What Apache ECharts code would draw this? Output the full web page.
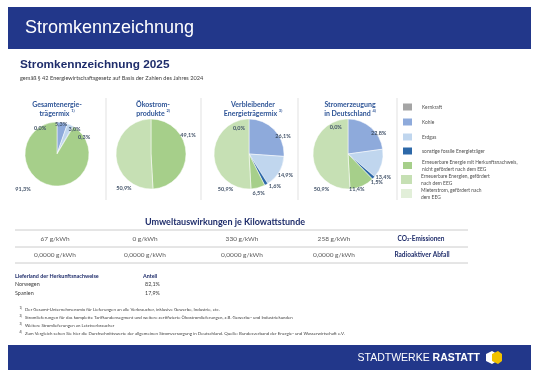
<!DOCTYPE html>
<html><head><meta charset="utf-8">
<script src="https://cdn.jsdelivr.net/npm/echarts@6/dist/echarts.min.js"></script>
<style>html,body{margin:0;padding:0;background:#fff}#c{width:539px;height:381px}</style>
</head><body><div id="c"></div>
<script>
// ---- data ----
const categories = ['Kernkraft','Kohle','Erdgas','sonstige fossile Energieträger',
  'Erneuerbare Energie mit Herkunftsnachweis, nicht gefördert nach dem EEG',
  'Erneuerbare Energien, gefördert nach dem EEG','Mieterstrom, gefördert nach dem EEG'];
const legendLabels = ['Kernkraft','Kohle','Erdgas','sonstige fossile Energieträger',
  'Erneuerbare Energie mit Herkunftsnachweis,\nnicht gefördert nach dem EEG',
  'Erneuerbare Energien, gefördert\nnach dem EEG','Mieterstrom, gefördert nach\ndem EEG'];
const pieTitles = [['Gesamtenergie-','trägermix','1)'],['Ökostrom-','produkte','2)'],
  ['Verbleibender','Energieträgermix','3)'],['Stromerzeugung','in Deutschland','4)']];
const mixGesamt      = [0.0, 5.3, 3.0, 0.3, 91.3, null, null];
const mixOekostrom   = [null, null, null, null, 49.1, 50.9, null];
const mixVerbleibend = [0.0, 26.1, 14.9, 1.6, 6.5, 50.9, null];
const mixDeutschland = [0.0, 22.8, 13.4, 1.5, 11.4, 50.9, null];
const tableTitle = 'Umweltauswirkungen je Kilowattstunde';
const co2Values = [67, 0, 330, 258];
const wasteValues = [0.0000, 0.0000, 0.0000, 0.0000];
const countries = ['Norwegen','Spanien'];
const countryShares = [82.1, 17.9];
const footnotes = [
 'Der Gesamt-Unternehmensmix für Lieferungen an alle Verbraucher, inklusive Gewerbe, Industrie, etc.',
 'Stromlieferungen für das komplette Tarifkundensegment und weitere zertifizierte Ökostromlieferungen, z.B. Gewerbe- und Industriekunden',
 'Weitere Stromlieferungen an Letztverbraucher',
 'Zum Vergleich sehen Sie hier die Durchschnittswerte der allgemeinen Stromversorgung in Deutschland. Quelle: Bundesverband der Energie- und Wasserwirtschaft e.V.'];

// ---- layout/style ----
const categoryColors = ['#a5a5a5','#8eaadb','#c0d6ee','#2d68a8','#a6cf8a','#c6e0b4','#e2efd9'];
const mixes = [mixGesamt, mixOekostrom, mixVerbleibend, mixDeutschland];
const pieCenters = [[57,154],[151,154],[249,154],[348,154]];
const pieRadii = [32,35,35,35];
const titleX = [57,153,253,350];
// label placement (angle from 12 o'clock in degrees, distance of label centre from pie centre)
const labelPolar = [
  [[-33,31],[8,30],[35,30.5],[58,32],[224,49],null,null],
  [null,null,null,null,[63,41.5],[218,44],null],
  [[-21,28],[62,38.5],[120,42],[141,41],[166,40],[214,42],null],
  [[-25,29],[56,37],[123,42],[134,40],[166,36],[217,44],null]];
const BLUE = '#22378a', DARK = '#1f2d6b', TBLUE = '#2f5597';
const fmt = (v, d) => v.toFixed(d).replace('.', ',');
const BODY = 'Lato, "Open Sans", sans-serif';

const series = mixes.map((mix, i) => ({
  type: 'pie', center: pieCenters[i], radius: pieRadii[i], startAngle: 90, clockwise: true,
  animation: false, avoidLabelOverlap: false, silent: true,
  itemStyle: {borderColor: '#fff', borderWidth: 0.5},
  label: {show: true, position: 'outside', fontSize: 5.5, fontWeight: 'bold', color: '#44546a',
    fontFamily: BODY, formatter: p => fmt(p.value, 1) + '%'},
  labelLine: {show: false, length: 3, length2: 0},
  labelLayout: p => {
    const lp = labelPolar[i][p.dataIndex];
    if (!lp) return {};
    const a = lp[0] * Math.PI / 180;
    return {x: pieCenters[i][0] + Math.sin(a) * lp[1], y: pieCenters[i][1] - Math.cos(a) * lp[1],
      align: 'center', verticalAlign: 'middle'};
  },
  data: categories.map((c, k) => mix[k] === null
    ? {name: c, value: 0, itemStyle: {color: categoryColors[k], borderWidth: 0}, label: {show: false}}
    : {name: c, value: mix[k], itemStyle: {color: categoryColors[k]}})
}));

const legendCenters = [106,121,136,150,163,177,191];
const legends = categories.map((c, k) => ({
  data: [c], left: 401, top: legendCenters[k] - 4.5, orient: 'vertical', padding: 0,
  icon: 'rect', itemWidth: 11, itemHeight: 9, itemGap: 0, selectedMode: false,
  formatter: () => legendLabels[k],
  textStyle: {fontSize: 4.9, lineHeight: 7, color: '#505050', fontFamily: BODY, padding: [0,0,0,4]}
}));

const g = [];
const txt = (text, x, y, o) => g.push({type: 'text', silent: true, style: Object.assign({text, x, y,
  fill: '#404040', fontSize: 6, fontFamily: BODY, textAlign: 'left', verticalAlign: 'middle'}, o || {})});
const line = (x1, y1, x2, y2, c, w) => g.push({type: 'line', silent: true,
  shape: {x1, y1, x2, y2}, style: {stroke: c, lineWidth: w || 1}});

// header
g.push({type: 'rect', silent: true, shape: {x: 8, y: 7, width: 523, height: 42}, style: {fill: BLUE}});
txt('Stromkennzeichnung', 25, 28, {fill: '#fff', fontSize: 18, fontFamily: '"Liberation Sans", Arial, sans-serif'});
txt('Stromkennzeichnung 2025', 20, 65, {fill: DARK, fontSize: 11.8, fontWeight: 'bold', fontFamily: '"Liberation Sans", Arial, sans-serif'});
txt('gemäß § 42 Energiewirtschaftsgesetz auf Basis der Zahlen des Jahres 2024', 20, 78, {fill: '#404040', fontSize: 5.6});

// pie titles
pieTitles.forEach((t, i) => {
  g.push({type: 'text', silent: true, style: {x: titleX[i], y: 100, textAlign: 'center', verticalAlign: 'top',
    text: '{a|' + t[0] + '}\n{a|' + t[1] + ' }{s|' + t[2] + '}',
    rich: {a: {fontSize: 7, fontWeight: 'bold', fill: TBLUE, fontFamily: BODY, lineHeight: 9},
           s: {fontSize: 4, fontWeight: 'bold', fill: TBLUE, fontFamily: BODY, verticalAlign: 'top', lineHeight: 9}}}});
});
// separators
[106, 201, 298, 397].forEach(x => line(x, 98, x, 200, '#d9d9d9', 0.8));

// table
txt(tableTitle, 225, 222, {fill: DARK, fontSize: 9, fontWeight: 'bold', textAlign: 'center'});
[230, 247, 263].forEach(y => line(15, y, 468, y, '#bfbfbf', 0.8));
const colX = [55, 145, 242, 334];
co2Values.forEach((v, i) => txt(v + ' g/kWh', colX[i], 238.5, {textAlign: 'center', fontSize: 6.5, fill: '#595959'}));
wasteValues.forEach((v, i) => txt(fmt(v, 4) + ' g/kWh', colX[i], 255, {textAlign: 'center', fontSize: 6.5, fill: '#595959'}));
g.push({type: 'text', silent: true, style: {x: 421, y: 238.5, textAlign: 'center', verticalAlign: 'middle',
  text: '{a|CO}{s|2}{a|-Emissionen}',
  rich: {a: {fontSize: 6.5, fontWeight: 'bold', fill: DARK, fontFamily: BODY},
         s: {fontSize: 4, fontWeight: 'bold', fill: DARK, fontFamily: BODY, verticalAlign: 'bottom', padding: [3,0,0,0]}}}});
txt('Radioaktiver Abfall', 422, 255, {textAlign: 'center', fontSize: 6.5, fontWeight: 'bold', fill: DARK});

// countries
txt('Lieferland der Herkunftsnachweise', 15, 276, {fontSize: 5.4, fontWeight: 'bold', fill: DARK});
txt('Anteil', 143, 276, {fontSize: 5.4, fontWeight: 'bold', fill: DARK});
countries.forEach((c, i) => {
  txt(c, 15, 284.5 + i * 8.5, {fontSize: 5.4, fill: '#404040'});
  txt(fmt(countryShares[i], 1) + '%', 145, 284.5 + i * 8.5, {fontSize: 5.4, fill: '#404040'});
});
// footnotes
footnotes.forEach((f, i) => {
  const y = 309.5 + i * 7.9;
  txt(String(i + 1) + ')', 19.5, y - 1.2, {fontSize: 3, fill: '#404040'});
  txt(f, 25, y, {fontSize: 4.4, fill: '#404040'});
});

// footer
g.push({type: 'rect', silent: true, shape: {x: 8, y: 345, width: 523, height: 25}, style: {fill: BLUE}});
g.push({type: 'text', silent: true, style: {x: 480, y: 358, textAlign: 'right', verticalAlign: 'middle',
  text: '{a|STADTWERKE }{b|RASTATT}',
  rich: {a: {fontSize: 10.5, fill: '#fff', fontFamily: '"Liberation Sans", Arial, sans-serif'},
         b: {fontSize: 10.5, fill: '#fff', fontWeight: 'bold', fontFamily: '"Liberation Sans", Arial, sans-serif'}}}});
g.push({type: 'polygon', silent: true, shape: {points: [[486,354],[492,351],[497,354],[497,361],[492,364],[486,361]]}, style: {fill: '#ffffff'}});
g.push({type: 'polygon', silent: true, shape: {points: [[492,354],[498,351],[502,354],[502,361],[498,364],[492,361]]}, style: {fill: '#f2c200'}});

const chart = echarts.init(document.getElementById('c'), null, {renderer: 'canvas'});
chart.setOption({animation: false, backgroundColor: '#fff', legend: legends, series, graphic: g});
</script></body></html>
